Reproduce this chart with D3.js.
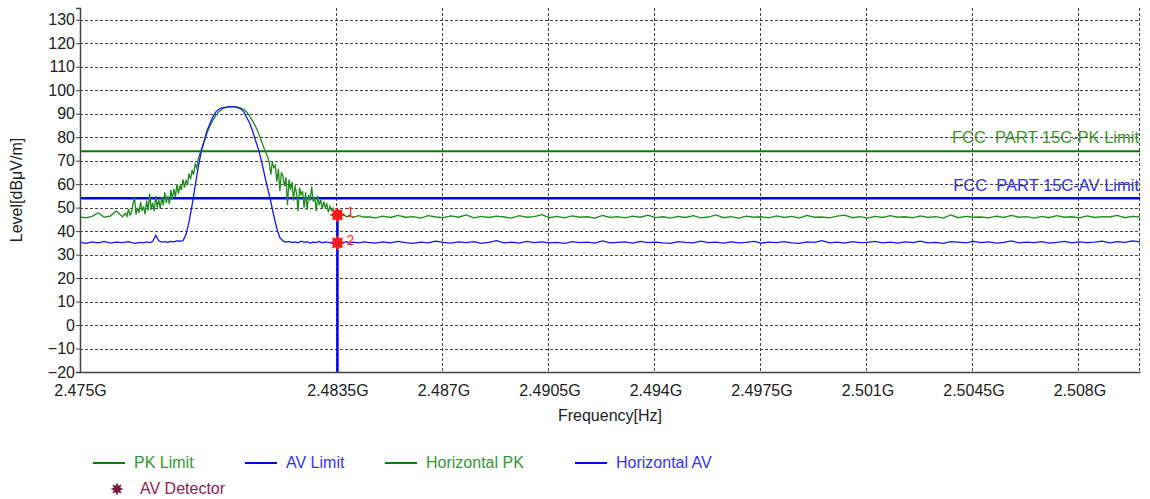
<!DOCTYPE html>
<html>
<head>
<meta charset="utf-8">
<script src="https://cdn.jsdelivr.net/npm/d3@7"></script>
<style>
  body { margin: 0; background: #fff; }
  svg text { font-family: "Liberation Sans", Arial, sans-serif; }
</style>
</head>
<body>
<svg id="chart" width="1150" height="499"></svg>
<script>
// axis ticks (frequency in MHz)
var xTicks = [2475, 2483.5, 2487, 2490.5, 2494, 2497.5, 2501, 2504.5, 2508];
var yTicks = [-20, -10, 0, 10, 20, 30, 40, 50, 60, 70, 80, 90, 100, 110, 120, 130];

// limit lines
var limitValues = [74, 54];
var limitLabels = ["FCC  PART 15C-PK Limit", "FCC  PART 15C-AV Limit"];

// markers
var markerFreq = [2483.5, 2483.5];
var markerLevel = [46.9, 35.0];
var markerNames = ["1", "2"];

// legend
var legendNames = ["PK Limit", "AV Limit", "Horizontal PK", "Horizontal AV"];

// Horizontal PK trace [MHz, dBuV/m]
var pkTrace = [
 [2475.0,46.0],[2475.2,45.6],[2475.4,46.3],[2475.6,47.8],[2475.8,45.9],[2476.0,46.4],
 [2476.2,48.6],[2476.4,46.1],
 [2476.5,47.5],[2476.55,46.2],[2476.6,49.5],[2476.65,46.8],[2476.7,48.0],[2476.75,51.5],
 [2476.8,54.5],[2476.85,47.0],[2476.9,50.0],[2476.95,47.8],[2477.0,52.5],[2477.05,48.5],
 [2477.1,50.5],[2477.15,47.2],[2477.2,53.0],[2477.25,48.8],[2477.3,56.0],[2477.35,49.0],
 [2477.4,52.0],[2477.45,48.5],[2477.5,55.0],[2477.55,50.0],[2477.6,53.5],[2477.65,49.5],
 [2477.7,54.5],[2477.75,51.0],[2477.8,56.5],[2477.85,52.0],[2477.9,55.0],[2477.95,51.5],
 [2478.0,57.5],[2478.05,53.5],[2478.1,58.0],[2478.15,54.5],[2478.2,60.0],[2478.25,56.0],
 [2478.3,59.5],[2478.35,57.5],[2478.4,62.0],[2478.45,58.5],[2478.5,61.5],[2478.55,60.0],
 [2478.6,64.5],[2478.65,62.0],[2478.7,66.0],[2478.75,64.0],[2478.8,68.5],[2478.85,67.0],
 [2478.9,70.5],[2479.0,74.5],[2479.1,78.0],[2479.2,82.0],[2479.3,85.0],[2479.4,87.5],
 [2479.5,89.5],[2479.6,91.0],[2479.7,92.0],[2479.8,92.6],[2479.9,92.9],[2480.0,93.0],
 [2480.1,93.0],[2480.2,92.8],[2480.3,92.5],[2480.4,91.8],[2480.5,90.8],[2480.6,89.0],
 [2480.7,86.8],[2480.8,84.5],[2480.9,81.5],[2481.0,78.0],[2481.1,74.5],
 [2481.15,73.0],[2481.2,71.5],[2481.25,69.0],[2481.3,64.0],[2481.35,69.5],[2481.4,67.0],
 [2481.45,68.0],[2481.5,61.0],[2481.55,66.5],[2481.6,57.0],[2481.65,65.0],[2481.7,63.5],
 [2481.75,59.0],[2481.8,63.0],[2481.85,51.0],[2481.9,62.0],[2481.95,57.5],[2482.0,61.0],
 [2482.05,53.0],[2482.1,59.5],[2482.15,56.0],[2482.2,48.5],[2482.25,58.5],[2482.3,55.5],
 [2482.35,57.0],[2482.4,50.0],[2482.45,56.5],[2482.5,49.0],[2482.55,55.5],[2482.6,53.0],
 [2482.65,59.0],[2482.7,52.5],[2482.75,54.5],[2482.8,48.5],[2482.85,55.0],[2482.9,51.0],
 [2482.95,53.5],[2483.0,49.5],[2483.05,52.5],[2483.1,50.0],[2483.15,51.5],[2483.2,48.0],
 [2483.25,50.5],[2483.3,48.8],[2483.35,49.8],[2483.4,47.5],[2483.45,48.6],[2483.5,46.9],
 [2483.55,47.6],[2483.6,46.4],[2483.7,47.2],[2483.8,46.0],[2483.9,46.8],[2484.0,45.8],
 [2484.2,46.6],[2484.4,45.9],
 [2484.5,46.1],[2484.75,45.6],[2485.0,46.4],[2485.25,45.8],[2485.5,46.7],[2485.75,45.9],
 [2486.0,46.2],[2486.25,45.5],[2486.5,46.6],[2486.75,46.0],[2487.0,45.7],[2487.25,46.5],
 [2487.5,45.9],[2487.75,46.9],[2488.0,45.6],[2488.25,46.3],[2488.5,45.8],[2488.75,46.4],
 [2489.0,46.0],[2489.25,45.5],[2489.5,46.6],[2489.75,45.9],[2490.0,46.2],[2490.25,47.0],
 [2490.5,45.7],[2490.75,46.3],[2491.0,45.6],[2491.25,46.5],[2491.5,45.9],[2491.75,46.1],
 [2492.0,45.5],[2492.25,46.7],[2492.5,45.8],[2492.75,46.2],[2493.0,45.6],[2493.25,46.4],
 [2493.5,45.9],[2493.75,46.8],[2494.0,45.7],[2494.25,46.1],[2494.5,45.5],[2494.75,46.3],
 [2495.0,45.8],[2495.25,46.6],[2495.5,45.6],[2495.75,46.0],[2496.0,46.9],[2496.25,45.7],
 [2496.5,46.2],[2496.75,45.5],[2497.0,46.4],[2497.25,45.9],[2497.5,46.1],[2497.75,45.6],
 [2498.0,46.5],[2498.25,45.8],[2498.5,46.3],[2498.75,45.5],[2499.0,46.7],[2499.25,45.9],
 [2499.5,46.0],[2499.75,45.6],[2500.0,46.4],[2500.25,46.8],[2500.5,45.7],[2500.75,46.2],
 [2501.0,45.5],[2501.25,46.3],[2501.5,45.8],[2501.75,46.6],[2502.0,45.9],[2502.25,46.1],
 [2502.5,45.6],[2502.75,46.5],[2503.0,45.8],[2503.25,46.2],[2503.5,45.5],[2503.75,46.9],
 [2504.0,45.7],[2504.25,46.3],[2504.5,45.9],[2504.75,46.0],[2505.0,45.6],[2505.25,46.4],
 [2505.5,45.8],[2505.75,46.7],[2506.0,45.9],[2506.25,46.2],[2506.5,45.5],[2506.75,46.3],
 [2507.0,45.7],[2507.25,46.6],[2507.5,45.9],[2507.75,46.1],[2508.0,45.6],[2508.25,46.5],
 [2508.5,45.8],[2508.75,46.2],[2509.0,46.0],[2509.25,46.7],[2509.5,45.7],[2509.75,46.3],
 [2510.0,46.0]
];

// Horizontal AV trace [MHz, dBuV/m]
var avTrace = [
 [2475.0,35.2],[2475.2,34.8],[2475.4,35.4],[2475.6,35.0],[2475.8,35.6],[2476.0,34.9],
 [2476.2,35.3],[2476.4,35.1],[2476.6,35.5],[2476.8,34.8],[2477.0,35.2],
 [2477.1,35.0],[2477.2,35.4],[2477.3,35.1],[2477.4,35.6],[2477.5,38.2],[2477.6,35.9],
 [2477.7,35.3],[2477.8,35.5],[2477.9,35.2],[2478.0,35.6],[2478.1,35.4],[2478.2,35.8],
 [2478.3,35.7],[2478.4,35.9],[2478.5,38.5],[2478.6,44.0],[2478.7,51.0],[2478.8,59.0],
 [2478.9,67.0],[2479.0,73.5],[2479.1,78.5],[2479.2,83.0],[2479.3,86.0],[2479.4,89.0],
 [2479.5,91.0],[2479.6,92.0],[2479.7,92.5],[2479.8,92.7],[2479.9,92.9],[2480.0,93.0],
 [2480.1,92.9],[2480.2,92.6],[2480.3,92.1],[2480.4,91.0],[2480.5,88.5],[2480.6,86.0],
 [2480.7,82.5],[2480.8,78.5],[2480.9,74.5],[2481.0,69.5],[2481.1,63.5],[2481.2,58.0],
 [2481.3,52.5],[2481.4,46.5],[2481.5,41.0],[2481.6,37.2],[2481.7,35.8],[2481.8,35.3],
 [2481.9,35.6],[2482.0,35.1],[2482.1,35.4],[2482.2,35.0],[2482.3,35.7],[2482.4,35.2],
 [2482.5,35.5],[2482.6,34.9],[2482.7,35.3],[2482.8,35.1],[2482.9,35.6],[2483.0,35.0],
 [2483.1,35.4],[2483.2,35.2],[2483.3,34.9],[2483.4,35.3],[2483.5,35.0],[2483.6,35.4],
 [2483.7,35.1],[2483.8,35.5],[2483.9,34.9],[2484.0,35.3],[2484.2,35.0],[2484.4,35.4],
 [2484.5,35.2],[2484.75,34.9],[2485.0,35.4],[2485.25,35.0],[2485.5,35.6],[2485.75,35.1],
 [2486.0,34.8],[2486.25,35.3],[2486.5,35.0],[2486.75,35.7],[2487.0,35.2],[2487.25,34.9],
 [2487.5,35.4],[2487.75,35.1],[2488.0,35.5],[2488.25,34.8],[2488.5,35.2],[2488.75,35.9],
 [2489.0,35.0],[2489.25,35.3],[2489.5,34.9],[2489.75,35.6],[2490.0,35.1],[2490.25,35.4],
 [2490.5,35.0],[2490.75,35.2],[2491.0,34.8],[2491.25,35.5],[2491.5,35.1],[2491.75,35.3],
 [2492.0,34.9],[2492.25,35.8],[2492.5,35.0],[2492.75,35.2],[2493.0,35.4],[2493.25,34.9],
 [2493.5,35.6],[2493.75,35.1],[2494.0,35.3],[2494.25,35.0],[2494.5,34.8],[2494.75,35.5],
 [2495.0,35.2],[2495.25,35.0],[2495.5,35.7],[2495.75,35.1],[2496.0,35.3],[2496.25,34.9],
 [2496.5,35.4],[2496.75,35.0],[2497.0,35.2],[2497.25,35.6],[2497.5,34.9],[2497.75,35.3],
 [2498.0,35.1],[2498.25,35.5],[2498.5,35.0],[2498.75,34.8],[2499.0,35.4],[2499.25,35.2],
 [2499.5,35.9],[2499.75,35.0],[2500.0,35.3],[2500.25,34.9],[2500.5,35.5],[2500.75,35.1],
 [2501.0,35.2],[2501.25,35.6],[2501.5,35.0],[2501.75,35.3],[2502.0,34.9],[2502.25,35.4],
 [2502.5,35.1],[2502.75,35.7],[2503.0,35.0],[2503.25,35.2],[2503.5,34.8],[2503.75,35.5],
 [2504.0,35.3],[2504.25,35.0],[2504.5,35.6],[2504.75,35.1],[2505.0,35.4],[2505.25,34.9],
 [2505.5,35.2],[2505.75,35.8],[2506.0,35.0],[2506.25,35.3],[2506.5,35.1],[2506.75,35.5],
 [2507.0,34.9],[2507.25,35.2],[2507.5,35.6],[2507.75,35.0],[2508.0,35.4],[2508.25,35.1],
 [2508.5,35.3],[2508.75,35.7],[2509.0,35.0],[2509.25,35.5],[2509.5,35.2],[2509.75,35.8],
 [2510.0,35.4]
];

var W = 1150, H = 499;
var margin = {top: 8, right: 10, bottom: 127, left: 80};
var svg = d3.select("#chart");

svg.append("rect").attr("width", W).attr("height", H).attr("fill", "#fff");

var x = d3.scaleLinear().domain([2475, 2510]).range([margin.left, W - margin.right]);
var y = d3.scaleLinear().domain([-20, 135]).range([H - margin.bottom, margin.top]);

var limitColors = ["#008000", "#0000ff"];
var limitTextColors = ["#3d9a2d", "#2f2fff"];

// limit labels (drawn under the grid, like the original)
svg.selectAll(".limlabel").data(limitValues).enter().append("text")
  .attr("class", "limlabel")
  .attr("x", x(2510) - 1)
  .attr("y", function(d, i){ return y(d) - (i == 0 ? 8 : 7); })
  .attr("text-anchor", "end")
  .style("white-space", "pre")
  .style("font-size", "16.5px")
  .attr("fill", function(d, i){ return limitTextColors[i]; })
  .text(function(d, i){ return limitLabels[i]; });

// grid
var grid = svg.append("g").attr("stroke", "#444").attr("stroke-width", 1).attr("stroke-dasharray", "3,2");
grid.selectAll(".hg").data(yTicks.filter(function(d){ return d > -20; })).enter().append("line")
  .attr("x1", x(2475)).attr("x2", x(2510))
  .attr("y1", function(d){ return Math.round(y(d)) + 0.5; })
  .attr("y2", function(d){ return Math.round(y(d)) + 0.5; });
grid.selectAll(".vg").data(xTicks.slice(1).concat([2510])).enter().append("line")
  .attr("y1", y(135)).attr("y2", y(-20))
  .attr("x1", function(d){ return Math.round(x(d)) - 0.5; })
  .attr("x2", function(d){ return Math.round(x(d)) - 0.5; });

// limit lines
svg.selectAll(".limline").data(limitValues).enter().append("line")
  .attr("x1", x(2475)).attr("x2", x(2510))
  .attr("y1", function(d){ return y(d); }).attr("y2", function(d){ return y(d); })
  .attr("stroke", function(d, i){ return limitColors[i]; })
  .attr("stroke-width", function(d, i){ return i == 0 ? 2 : 2.5; });

// traces
var line = d3.line().x(function(d){ return x(d[0]); }).y(function(d){ return y(d[1]); });
svg.append("path").datum(pkTrace).attr("d", line)
  .attr("fill", "none").attr("stroke", "#1e8c1e").attr("stroke-width", 1.3);
svg.append("path").datum(avTrace).attr("d", line)
  .attr("fill", "none").attr("stroke", "#1414ff").attr("stroke-width", 1.3);

// marker drop line
svg.append("line")
  .attr("x1", x(markerFreq[0])).attr("x2", x(markerFreq[0]))
  .attr("y1", y(markerLevel[0])).attr("y2", y(-20))
  .attr("stroke", "#0000ff").attr("stroke-width", 2.5);

// burst symbol for markers
function burst(r1, r2, n){
  var pts = [];
  for (var k = 0; k < n * 2; k++) pts.push([Math.PI * k / n, k % 2 ? r2 : r1]);
  return d3.lineRadial().angle(function(p){ return p[0]; }).radius(function(p){ return p[1]; })
    .curve(d3.curveLinearClosed)(pts);
}

svg.selectAll(".mk").data(markerLevel).enter().append("path")
  .attr("d", burst(7.5, 5, 8))
  .attr("transform", function(d, i){ return "translate(" + x(markerFreq[i]) + "," + y(d) + ")"; })
  .attr("fill", "#ff1a1a");
svg.selectAll(".mkl").data(markerLevel).enter().append("text")
  .attr("x", function(d, i){ return x(markerFreq[i]) + 9; })
  .attr("y", function(d){ return y(d) + 2; })
  .attr("fill", "#ff2a2a").style("font-size", "14px")
  .text(function(d, i){ return markerNames[i]; });

// axes
var xAxis = d3.axisBottom(x).tickValues(xTicks).tickSize(0).tickPadding(13)
  .tickFormat(function(d){ return String(+(d / 1000).toFixed(4)) + "G"; });
var gx = svg.append("g").attr("transform", "translate(0," + y(-20) + ")").call(xAxis);
gx.select(".domain").attr("stroke", "#444").attr("stroke-width", 1.5);
gx.selectAll("text").style("font-size", "16px").attr("fill", "#222");

var yAxis = d3.axisLeft(y).tickValues(yTicks).tickSize(4).tickPadding(1);
var gy = svg.append("g").attr("transform", "translate(" + x(2475) + ",0)").call(yAxis);
gy.select(".domain").attr("stroke", "#444").attr("stroke-width", 1.5);
gy.selectAll(".tick line").attr("stroke", "#444");
gy.selectAll("text").style("font-size", "16px").attr("fill", "#222");

// axis titles
svg.append("text").attr("x", (x(2475) + x(2510)) / 2).attr("y", 421)
  .attr("text-anchor", "middle").style("font-size", "16px").attr("fill", "#222")
  .text("Frequency[Hz]");
svg.append("text").attr("transform", "translate(22," + (y(135) + y(-20)) / 2 + ") rotate(-90)")
  .attr("text-anchor", "middle").style("font-size", "16px").attr("fill", "#222")
  .text("Level[dBμV/m]");

// legend
var legX = [93, 245, 385, 575];
var legLineColors = ["#008000", "#0000ff", "#008000", "#0000ff"];
var legTextColors = ["#339933", "#3333ff", "#339933", "#3333ff"];
var leg = svg.append("g");
leg.selectAll(".ll").data(legendNames).enter().append("line")
  .attr("x1", function(d, i){ return legX[i]; })
  .attr("x2", function(d, i){ return legX[i] + 32; })
  .attr("y1", 463).attr("y2", 463)
  .attr("stroke", function(d, i){ return legLineColors[i]; }).attr("stroke-width", 2);
leg.selectAll(".lt").data(legendNames).enter().append("text")
  .attr("x", function(d, i){ return legX[i] + 41; })
  .attr("y", 468).style("font-size", "16px")
  .attr("fill", function(d, i){ return legTextColors[i]; })
  .text(function(d){ return d; });
leg.append("path").attr("d", burst(6.5, 3.5, 8))
  .attr("transform", "translate(117,489)").attr("fill", "#7d1840");
leg.append("text").attr("x", 140).attr("y", 494).style("font-size", "16px")
  .attr("fill", "#8e2351").text("AV Detector");
</script>
</body>
</html>
